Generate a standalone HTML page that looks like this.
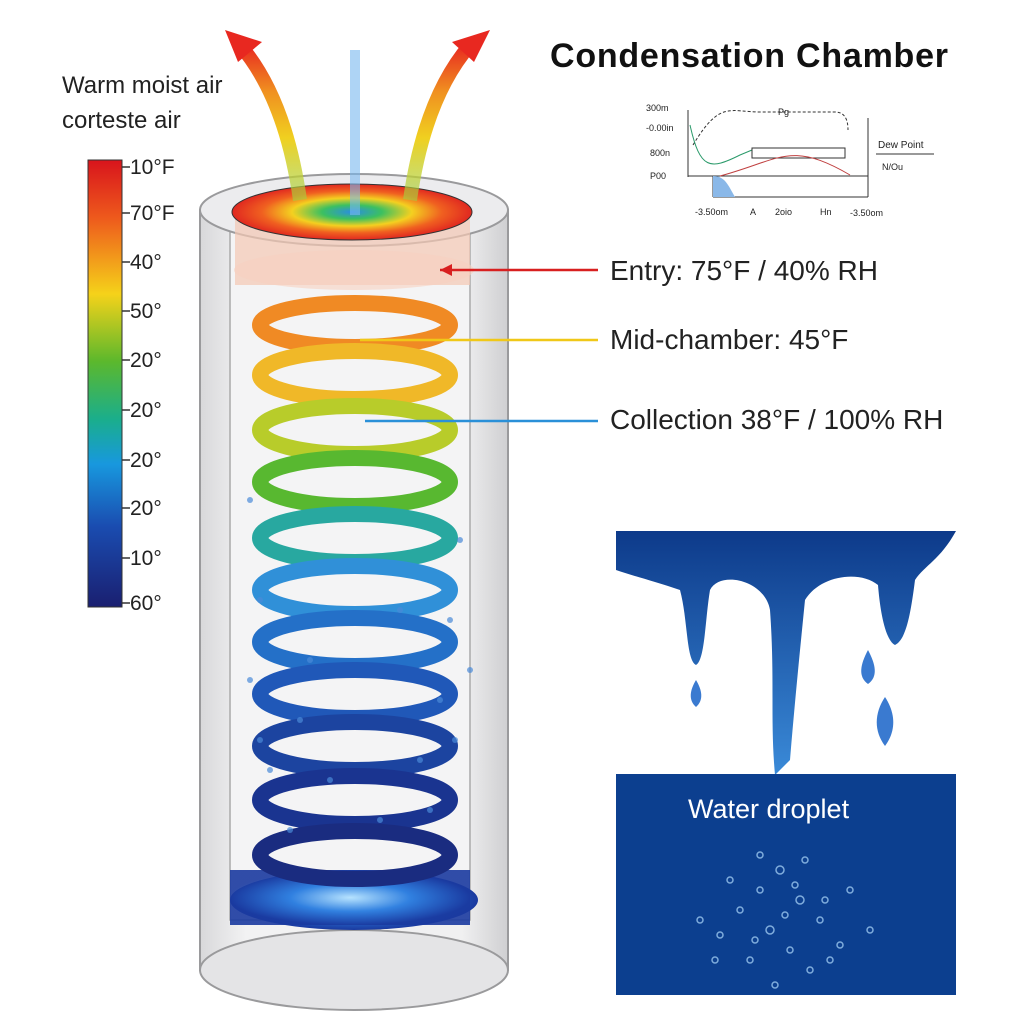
<!DOCTYPE html>
<html><head><meta charset="utf-8"><style>
html,body{margin:0;padding:0;background:#fff}
svg{display:block}
text{font-family:"Liberation Sans",sans-serif}
</style></head><body>
<svg width="1024" height="1024" viewBox="0 0 1024 1024" xmlns="http://www.w3.org/2000/svg">
<defs>
<linearGradient id="bar" x1="0" y1="0" x2="0" y2="1">
<stop offset="0" stop-color="#d8141c"/><stop offset="0.13" stop-color="#ee5a1c"/>
<stop offset="0.3" stop-color="#f5d21a"/><stop offset="0.45" stop-color="#5cb82c"/>
<stop offset="0.58" stop-color="#1aae8c"/><stop offset="0.68" stop-color="#1898de"/>
<stop offset="0.82" stop-color="#1a4cb0"/><stop offset="1" stop-color="#1a1f70"/>
</linearGradient>
<linearGradient id="cyl" x1="0" y1="0" x2="1" y2="0">
<stop offset="0" stop-color="#d8d8da"/><stop offset="0.15" stop-color="#f2f2f3"/>
<stop offset="0.85" stop-color="#f0f0f1"/><stop offset="1" stop-color="#cfcfd1"/>
</linearGradient>
<radialGradient id="disc" cx="0.5" cy="0.5" r="0.5">
<stop offset="0" stop-color="#2a8ee0"/><stop offset="0.25" stop-color="#3cc060"/>
<stop offset="0.5" stop-color="#f4d020"/><stop offset="0.75" stop-color="#f06020"/>
<stop offset="1" stop-color="#e02820"/>
</radialGradient>
<radialGradient id="bot" cx="0.5" cy="0.5" r="0.5">
<stop offset="0" stop-color="#b8e4ff"/><stop offset="0.5" stop-color="#3080e0"/>
<stop offset="1" stop-color="#1a3aa0"/>
</radialGradient>
<linearGradient id="arrL" x1="0" y1="1" x2="0" y2="0">
<stop offset="0" stop-color="#a0d040" stop-opacity="0.6"/><stop offset="0.4" stop-color="#f0d020"/><stop offset="0.7" stop-color="#f09020"/><stop offset="1" stop-color="#e82820"/>
</linearGradient>
<linearGradient id="drip" x1="0" y1="0" x2="0" y2="1">
<stop offset="0" stop-color="#0d3a8a"/><stop offset="1" stop-color="#3a8ad8"/>
</linearGradient>
</defs>

<text x="550" y="67" font-size="34" font-weight="bold" fill="#111" textLength="398">Condensation Chamber</text>
<text x="62" y="93" font-size="24" fill="#222">Warm moist air</text>
<text x="62" y="128" font-size="24" fill="#222">corteste air</text>

<rect x="88" y="160" width="34" height="447" fill="url(#bar)" stroke="#333" stroke-width="1"/>
<g font-size="21" fill="#222">
<text x="130" y="174">10°F</text><text x="130" y="220">70°F</text><text x="130" y="269">40°</text>
<text x="130" y="318">50°</text><text x="130" y="367">20°</text><text x="130" y="417">20°</text>
<text x="130" y="467">20°</text><text x="130" y="515">20°</text><text x="130" y="565">10°</text>
<text x="130" y="610">60°</text>
</g>
<g stroke="#333" stroke-width="1.5">
<line x1="122" y1="167" x2="130" y2="167"/><line x1="122" y1="213" x2="130" y2="213"/>
<line x1="122" y1="262" x2="130" y2="262"/><line x1="122" y1="311" x2="130" y2="311"/>
<line x1="122" y1="360" x2="130" y2="360"/><line x1="122" y1="410" x2="130" y2="410"/>
<line x1="122" y1="460" x2="130" y2="460"/><line x1="122" y1="508" x2="130" y2="508"/>
<line x1="122" y1="558" x2="130" y2="558"/><line x1="122" y1="603" x2="130" y2="603"/>
</g>

<rect x="200" y="210" width="308" height="760" fill="url(#cyl)" stroke="#9a9a9c" stroke-width="2"/>
<ellipse cx="354" cy="970" rx="154" ry="40" fill="#e4e4e6" stroke="#9a9a9c" stroke-width="2"/>
<rect x="230" y="220" width="240" height="700" fill="#f4f4f5" stroke="#aaa" stroke-width="1.5"/>
<ellipse cx="354" cy="900" rx="124" ry="30" fill="url(#bot)"/>
<rect x="230" y="870" width="240" height="55" fill="url(#bot)" opacity="0.9"/>
<ellipse cx="354" cy="210" rx="154" ry="36" fill="#ececee" stroke="#9a9a9c" stroke-width="2"/>
<path d="M235 215 L470 215 L470 285 L235 285 Z" fill="#f3c8b4" opacity="0.7"/>
<ellipse cx="352" cy="212" rx="120" ry="28" fill="url(#disc)" stroke="#333" stroke-width="1"/>
<ellipse cx="354" cy="270" rx="120" ry="20" fill="#f6d0c0" opacity="0.6"/>

<g fill="none" stroke-width="16">
<ellipse cx="355" cy="325" rx="95" ry="22" stroke="#f08a24"/>
<ellipse cx="355" cy="375" rx="95" ry="24" stroke="#f0b828"/>
<ellipse cx="355" cy="430" rx="95" ry="24" stroke="#b8cc2a"/>
<ellipse cx="355" cy="482" rx="95" ry="24" stroke="#58b830"/>
<ellipse cx="355" cy="538" rx="95" ry="24" stroke="#28a8a0"/>
<ellipse cx="355" cy="590" rx="95" ry="24" stroke="#3090d8"/>
<ellipse cx="355" cy="642" rx="95" ry="24" stroke="#2470c8"/>
<ellipse cx="355" cy="694" rx="95" ry="24" stroke="#2058b8"/>
<ellipse cx="355" cy="746" rx="95" ry="24" stroke="#1c44a0"/>
<ellipse cx="355" cy="800" rx="95" ry="24" stroke="#1a3490"/>
<ellipse cx="355" cy="855" rx="95" ry="24" stroke="#1a2c80"/>
</g>
<g fill="#4a8ad8" opacity="0.7">
<circle cx="260" cy="600" r="3"/><circle cx="450" cy="620" r="3"/><circle cx="300" cy="720" r="3"/>
<circle cx="420" cy="760" r="3"/><circle cx="330" cy="780" r="3"/><circle cx="270" cy="770" r="3"/>
<circle cx="440" cy="700" r="3"/><circle cx="380" cy="820" r="3"/><circle cx="250" cy="680" r="3"/>
<circle cx="460" cy="540" r="3"/><circle cx="250" cy="500" r="3"/><circle cx="470" cy="670" r="3"/>
<circle cx="290" cy="830" r="3"/><circle cx="430" cy="810" r="3"/><circle cx="260" cy="740" r="3"/>
<circle cx="455" cy="740" r="3"/><circle cx="310" cy="660" r="3"/><circle cx="400" cy="610" r="3"/>
</g>

<path d="M300 200 C290 130 270 80 240 45" stroke="url(#arrL)" stroke-width="14" fill="none"/>
<polygon points="225,30 262,42 238,62" fill="#e82820"/>
<path d="M410 200 C420 130 440 80 470 45" stroke="url(#arrL)" stroke-width="14" fill="none"/>
<polygon points="490,30 452,42 474,62" fill="#e82820"/>
<path d="M355 215 L355 50" stroke="#7ab8f0" stroke-width="10" opacity="0.6"/>

<line x1="440" y1="270" x2="598" y2="270" stroke="#d82020" stroke-width="2.5"/>
<polygon points="440,270 452,264 452,276" fill="#d82020"/>
<line x1="360" y1="340" x2="598" y2="340" stroke="#f0c818" stroke-width="2.5"/>
<line x1="365" y1="421" x2="598" y2="421" stroke="#2a90d8" stroke-width="2.5"/>
<g font-size="28" fill="#222">
<text x="610" y="280">Entry: 75°F / 40% RH</text>
<text x="610" y="349">Mid-chamber: 45°F</text>
<text x="610" y="429">Collection 38°F / 100% RH</text>
</g>

<g stroke="#333" stroke-width="1" fill="none" font-size="9">
<line x1="688" y1="110" x2="688" y2="177"/><line x1="688" y1="176" x2="868" y2="176"/>
<line x1="713" y1="176" x2="713" y2="197"/><line x1="713" y1="197" x2="868" y2="197"/>
<line x1="868" y1="118" x2="868" y2="197"/>
<path d="M693 145 C720 100 730 112 760 112 L835 112 C845 112 848 120 848 130" stroke-dasharray="3 2"/>
<path d="M690 125 C700 170 710 170 740 155 L752 150" stroke="#2a9a6a"/>
<rect x="752" y="148" width="93" height="10"/>
<path d="M720 176 C780 160 790 140 850 175" stroke="#c04040"/>
<path d="M713 176 L713 197 L735 197 C728 185 725 176 713 176Z" fill="#8ab8e8" stroke="none"/>
</g>
<g font-size="9" fill="#222">
<text x="646" y="111">300m</text><text x="646" y="131">-0.00in</text>
<text x="650" y="156">800n</text><text x="650" y="179">P00</text>
<text x="695" y="215">-3.50om</text><text x="750" y="215">A</text>
<text x="775" y="215">2oio</text><text x="820" y="215">Hn</text><text x="850" y="216">-3.50om</text>
<text x="778" y="115">Pg</text>
<text x="878" y="148" font-size="10">Dew Point</text><text x="882" y="170">N/Ou</text>
</g>
<line x1="876" y1="154" x2="934" y2="154" stroke="#333"/>

<path d="M616 531 L956 531 C940 560 925 565 915 580 C910 620 905 640 895 645 C885 640 880 610 878 585 C860 570 820 575 805 600 C800 650 795 700 790 760 L775 775 C770 720 775 680 770 610 C765 580 720 570 710 590 C705 620 705 660 696 665 C686 660 688 620 680 590 C650 580 630 575 616 570 Z" fill="url(#drip)"/>
<path d="M696 680 C702 690 704 700 696 707 C688 700 690 690 696 680Z" fill="#3a7ad0"/>
<path d="M868 650 C876 665 878 677 868 684 C858 677 860 665 868 650Z" fill="#3a7ad0"/>
<path d="M885 697 C895 712 897 730 885 746 C873 730 875 712 885 697Z" fill="#3a7ad0"/>
<rect x="616" y="774" width="340" height="221" fill="#0c3f8f"/>
<text x="688" y="818" font-size="27" fill="#fff">Water droplet</text>
<g fill="none" stroke="#9cc8f0" stroke-width="1.5" opacity="0.8">
<circle cx="780" cy="870" r="4"/><circle cx="760" cy="890" r="3"/><circle cx="800" cy="900" r="4"/>
<circle cx="740" cy="910" r="3"/><circle cx="820" cy="920" r="3"/><circle cx="770" cy="930" r="4"/>
<circle cx="720" cy="935" r="3"/><circle cx="840" cy="945" r="3"/><circle cx="790" cy="950" r="3"/>
<circle cx="750" cy="960" r="3"/><circle cx="810" cy="970" r="3"/><circle cx="730" cy="880" r="3"/>
<circle cx="850" cy="890" r="3"/><circle cx="700" cy="920" r="3"/><circle cx="870" cy="930" r="3"/>
<circle cx="775" cy="985" r="3"/><circle cx="760" cy="855" r="3"/><circle cx="805" cy="860" r="3"/>
<circle cx="785" cy="915" r="3"/><circle cx="755" cy="940" r="3"/><circle cx="825" cy="900" r="3"/>
<circle cx="715" cy="960" r="3"/><circle cx="830" cy="960" r="3"/><circle cx="795" cy="885" r="3"/>
</g>
</svg>
</body></html>
